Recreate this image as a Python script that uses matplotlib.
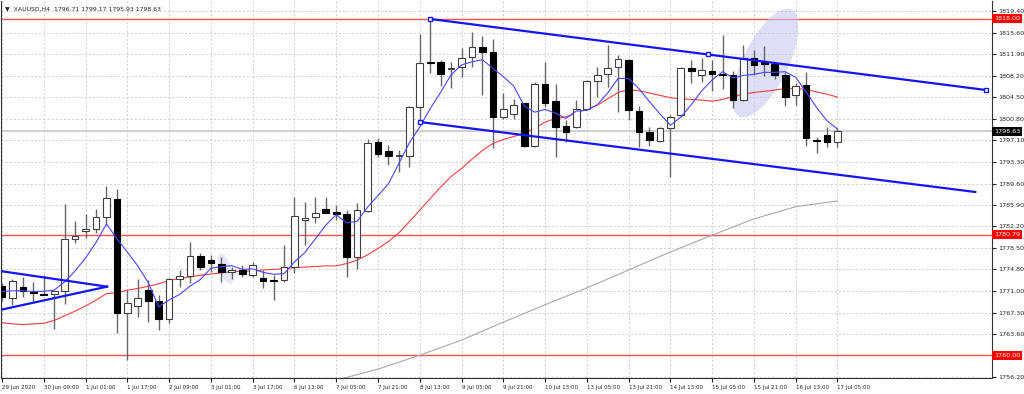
import numpy as np
import matplotlib.pyplot as plt
from matplotlib.patches import Ellipse
import matplotlib.transforms as mtransforms

# XAUUSD H4 candles
opens = [1771.93, 1769.81, 1771.82, 1770.96, 1770.62, 1770.50, 1771.07, 1779.98, 1781.47, 1781.76,
         1783.77, 1786.93, 1767.34, 1768.49, 1771.24, 1769.41, 1766.19, 1773.08, 1773.72, 1777.11,
         1776.42, 1775.73, 1774.29, 1774.69, 1773.83, 1773.37, 1772.97, 1772.97, 1775.15, 1783.31,
         1783.77, 1785.15, 1784.74, 1784.35, 1776.88, 1784.92, 1796.71, 1795.27, 1794.41, 1794.35,
         1802.74, 1810.61, 1810.61, 1809.40, 1809.64, 1811.36, 1813.08, 1812.22, 1801.01, 1801.59,
         1803.43, 1796.13, 1806.71, 1803.83, 1799.52, 1799.29, 1802.40, 1807.34, 1808.43, 1809.64,
         1810.90, 1802.16, 1798.43, 1796.99, 1799.12, 1801.42, 1809.46, 1808.31, 1809.06, 1808.49,
         1808.31, 1804.00, 1811.30, 1810.60, 1810.20, 1808.31, 1804.87, 1806.60, 1797.10, 1797.97,
         1796.71]
highs = [1772.50, 1773.08, 1773.54, 1772.68, 1773.83, 1771.25, 1786.07, 1783.20, 1784.29, 1785.15,
         1789.23, 1788.60, 1771.24, 1773.14, 1772.97, 1770.38, 1773.30, 1774.69, 1779.58, 1777.57,
         1777.28, 1776.99, 1775.27, 1775.55, 1776.12, 1774.69, 1773.83, 1779.00, 1787.34, 1786.47,
         1787.34, 1787.34, 1785.90, 1785.04, 1786.30, 1797.22, 1797.40, 1796.20, 1795.38, 1802.97,
         1815.38, 1818.00, 1810.90, 1810.60, 1812.90, 1815.78, 1815.04, 1814.60, 1805.15, 1804.12,
         1803.50, 1807.05, 1810.50, 1806.70, 1800.56, 1804.00, 1807.45, 1809.75, 1813.50, 1811.76,
         1811.00, 1802.97, 1799.30, 1799.40, 1801.40, 1809.75, 1810.90, 1811.19, 1810.90, 1815.20,
         1809.06, 1813.50, 1812.60, 1813.30, 1810.60, 1808.90, 1806.87, 1808.89, 1797.57, 1799.40,
         1799.17]
lows = [1769.30, 1768.66, 1769.98, 1769.06, 1770.38, 1764.52, 1768.83, 1779.41, 1780.15, 1781.13,
        1782.45, 1763.89, 1759.18, 1766.65, 1765.78, 1764.35, 1765.50, 1771.82, 1772.40, 1774.69,
        1774.41, 1772.68, 1773.09, 1773.54, 1773.43, 1771.53, 1769.52, 1772.68, 1774.24, 1778.97,
        1782.74, 1784.46, 1783.30, 1773.54, 1774.81, 1784.75, 1794.24, 1792.80, 1791.65, 1792.51,
        1800.27, 1808.72, 1806.42, 1806.00, 1808.00, 1809.75, 1804.90, 1795.67, 1800.67, 1800.67,
        1795.96, 1795.96, 1802.85, 1794.23, 1796.82, 1799.10, 1802.30, 1804.46, 1806.30, 1802.00,
        1800.56, 1795.96, 1796.07, 1796.82, 1790.80, 1801.13, 1806.99, 1807.17, 1805.61, 1805.85,
        1802.57, 1803.90, 1808.31, 1808.15, 1807.60, 1802.97, 1803.14, 1796.13, 1794.93, 1795.96,
        1795.93]
closes = [1769.98, 1772.85, 1771.13, 1770.67, 1770.45, 1771.07, 1779.98, 1780.55, 1781.82, 1783.77,
          1787.05, 1767.22, 1769.06, 1769.87, 1769.41, 1766.19, 1773.14, 1773.72, 1777.11, 1775.15,
          1775.85, 1774.41, 1774.69, 1773.95, 1775.55, 1772.80, 1772.74, 1775.27, 1784.06, 1783.72,
          1784.46, 1784.58, 1784.35, 1776.99, 1785.04, 1796.65, 1794.64, 1794.41, 1794.50, 1802.74,
          1810.44, 1810.44, 1808.49, 1809.60, 1811.30, 1813.08, 1812.22, 1801.13, 1802.45, 1803.14,
          1796.07, 1806.71, 1803.43, 1799.41, 1798.54, 1802.40, 1807.34, 1808.26, 1809.58, 1811.02,
          1802.28, 1798.54, 1797.11, 1799.12, 1801.13, 1809.46, 1809.06, 1809.18, 1808.43, 1808.31,
          1804.00, 1811.30, 1810.04, 1810.20, 1808.31, 1804.58, 1806.42, 1797.40, 1796.88, 1796.70,
          1798.63]

# moving averages as drawn
ma_fast = [1771.00, 1771.10, 1771.10, 1771.00, 1771.02, 1771.23, 1772.66, 1774.54, 1776.77, 1779.44,
           1782.63, 1780.08, 1777.78, 1775.39, 1772.52, 1768.35, 1769.53, 1770.47, 1771.91, 1773.06,
           1774.99, 1775.25, 1775.44, 1774.81, 1774.89, 1774.28, 1773.95, 1774.06, 1776.08, 1777.72,
           1780.05, 1782.42, 1784.23, 1782.82, 1783.08, 1785.52, 1787.53, 1789.55, 1793.05, 1796.59,
           1799.35, 1802.51, 1805.32, 1808.34, 1810.05, 1810.58, 1810.94, 1809.47, 1808.04, 1806.40,
           1803.00, 1801.90, 1802.36, 1801.75, 1800.83, 1802.10, 1802.22, 1803.19, 1805.22, 1807.72,
           1807.70, 1805.94, 1803.71, 1801.61, 1799.64, 1801.07, 1803.18, 1805.59, 1807.45, 1808.89,
           1807.80, 1808.24, 1808.42, 1808.77, 1808.77, 1808.89, 1807.91, 1805.38, 1802.72, 1800.40,
           1799.01]
ma_mid = [1765.6, 1765.4, 1765.3, 1765.4, 1765.5, 1766.0, 1766.8, 1767.6, 1768.5, 1769.5,
          1770.6, 1770.8, 1771.2, 1771.5, 1771.9, 1772.3, 1772.9, 1773.2, 1773.5, 1773.8,
          1774.0, 1774.2, 1774.4, 1774.5, 1774.5, 1774.7, 1774.8, 1774.9, 1775.1, 1775.2,
          1775.3, 1775.4, 1775.4, 1775.8, 1776.4, 1777.3, 1778.4, 1779.6, 1781.1, 1783.0,
          1785.0, 1787.0, 1789.0, 1790.8, 1792.2, 1793.8, 1795.3, 1796.5, 1797.2, 1797.7,
          1798.3, 1799.1, 1800.2, 1800.8, 1801.1, 1801.8, 1802.4, 1803.1, 1804.2, 1805.3,
          1805.8, 1805.6, 1805.2, 1804.8, 1804.4, 1804.2, 1804.1, 1804.0, 1803.8, 1804.1,
          1804.6, 1805.0, 1805.3, 1805.5, 1805.7, 1806.0, 1806.0, 1805.8, 1805.4, 1805.0,
          1804.5]
ma_slow_idx = [32, 36, 40, 44, 48, 52, 56, 60, 64, 68, 72, 76, 80]
ma_slow = [1755.7, 1757.6, 1760.0, 1762.6, 1765.7, 1768.7, 1771.6, 1774.7, 1777.8, 1780.7,
           1783.5, 1785.6, 1786.6]

# horizontal levels and last price
levels = [1818.00, 1780.79, 1760.00]
last_price = 1798.63

# drawn objects (bar index, price)
chan_top = ([41, 94.2], [1817.97, 1805.73])
chan_bot = ([40, 93.2], [1800.21, 1788.14])
tri_upper = ([-0.2, 10.06], [1774.52, 1771.82])
tri_lower = ([-0.2, 10.06], [1767.80, 1771.82])

x_labels = ["29 Jun 2020", "30 Jun 09:00", "1 Jul 01:00", "1 Jul 17:00", "2 Jul 09:00",
            "3 Jul 01:00", "3 Jul 17:00", "6 Jul 13:00", "7 Jul 05:00", "7 Jul 21:00",
            "8 Jul 13:00", "9 Jul 05:00", "9 Jul 21:00", "10 Jul 13:00", "13 Jul 05:00",
            "13 Jul 21:00", "14 Jul 13:00", "15 Jul 05:00", "15 Jul 21:00", "16 Jul 13:00",
            "17 Jul 05:00"]
y_ticks = [1819.40, 1815.60, 1811.90, 1808.20, 1804.50, 1800.80, 1797.10, 1793.30, 1789.60,
           1785.90, 1782.20, 1778.50, 1774.80, 1771.00, 1767.30, 1763.60, 1756.20]

plt.rcParams['font.family'] = ['DejaVu Sans']
fs_y = 4.6
fs_x = 4.0

fig = plt.figure(figsize=(10.24, 3.94), dpi=100)
ax = fig.add_axes([1 / 1024, 16 / 394, 991 / 1024, 377 / 394])

x = np.arange(len(closes))
o = np.array(opens)
c = np.array(closes)
bull = c >= o

# wicks
ax.vlines(x, lows, highs, color='#666666', lw=1, zorder=3)
# bodies
bottom = np.minimum(o, c)
height = np.maximum(np.abs(c - o), 0.12)
ax.bar(x[bull], height[bull], bottom=bottom[bull], width=0.64, color='white',
       edgecolor='#404040', linewidth=0.8, zorder=4)
ax.bar(x[~bull], height[~bull], bottom=bottom[~bull], width=0.64, color='black',
       edgecolor='black', linewidth=0.8, zorder=4)

# moving averages
ax.plot(x, ma_fast, color='#4646FF', lw=0.8, zorder=5)
ax.plot(x, ma_mid, color='#FF3C3C', lw=0.8, zorder=2)
ax.plot(ma_slow_idx, ma_slow, color='#A8A8A8', lw=0.8, zorder=2)

# horizontal lines
for lv in levels:
    ax.axhline(lv, color='#FF5050', lw=1, zorder=1)
ax.axhline(last_price, color='#D0D0D0', lw=1.5, zorder=1)

# trend channel and triangle
ax.plot(*chan_top, color='#1515F0', lw=1.6, zorder=6)
ax.plot(*chan_bot, color='#1515F0', lw=1.6, zorder=6)
ax.plot(*tri_upper, color='#1515F0', lw=1.6, zorder=6)
ax.plot(*tri_lower, color='#1515F0', lw=1.6, zorder=6)
ax.plot([41, 67.6, 94.2], [1817.97, 1811.85, 1805.73], ls='none', marker='s', ms=3.5,
        mfc='white', mec='#1515F0', mew=1, zorder=7)
ax.plot([40], [1800.21], ls='none', marker='s', ms=3.5, mfc='white', mec='#1515F0',
        mew=1, zorder=7, clip_on=False)

# highlight ellipses
trans = fig.dpi_scale_trans + mtransforms.ScaledTranslation(73.1, 1810.38, ax.transData)
ax.add_patch(Ellipse((0, 0), 1.19, 0.45, angle=64, transform=trans,
                     facecolor='#C8C8F0', edgecolor='none', alpha=0.6, zorder=1))
trans2 = fig.dpi_scale_trans + mtransforms.ScaledTranslation(21.4, 1774.9, ax.transData)
ax.add_patch(Ellipse((0, 0), 0.32, 0.12, angle=-70, transform=trans2,
                     facecolor='#D8D8F4', edgecolor='none', alpha=0.6, zorder=1))

ax.set_xlim(-0.1, 94.8)
ax.set_ylim(1756.07, 1821.07)

# axes styling
ax.set_xticks(np.arange(0, len(x_labels) * 4, 4))
ax.set_xticklabels(x_labels, ha='left')
ax.set_yticks(y_ticks)
ax.set_yticklabels([f'{v:.2f}' for v in y_ticks])
ax.yaxis.tick_right()
ax.tick_params(axis='both', length=3, width=0.8, pad=1.5, colors='#222222')
ax.tick_params(axis='y', labelsize=fs_y)
ax.tick_params(axis='x', labelsize=fs_x, pad=2)
ax.grid(True, color='#C8C8C8', ls=(0, (2.5, 2.5)), lw=0.6)
ax.set_axisbelow(True)
ax.spines['top'].set_visible(False)
for s in ['left', 'right', 'bottom']:
    ax.spines[s].set_color('#333333')
    ax.spines[s].set_linewidth(0.8)

# price labels on the right axis
ytr = ax.get_yaxis_transform()
for lv in levels:
    ax.text(1.002, lv, f'{lv:.2f}', transform=ytr, ha='left', va='center', fontsize=fs_y,
            color='white', zorder=10, clip_on=False,
            bbox=dict(boxstyle='square,pad=0.3', fc='#FF0000', ec='none'))
ax.text(1.002, last_price, f'{last_price:.2f}', transform=ytr, ha='left', va='center',
        fontsize=fs_y, color='white', zorder=10, clip_on=False,
        bbox=dict(boxstyle='square,pad=0.3', fc='black', ec='none'))

# header
ax.text(0.004, 0.985, '\u25BC  XAUUSD,H4  1796.71 1799.17 1795.93 1798.63', transform=ax.transAxes,
        ha='left', va='top', fontsize=4.4, color='#222222', zorder=10)

fig.savefig('out.png', dpi=100, facecolor='white')
